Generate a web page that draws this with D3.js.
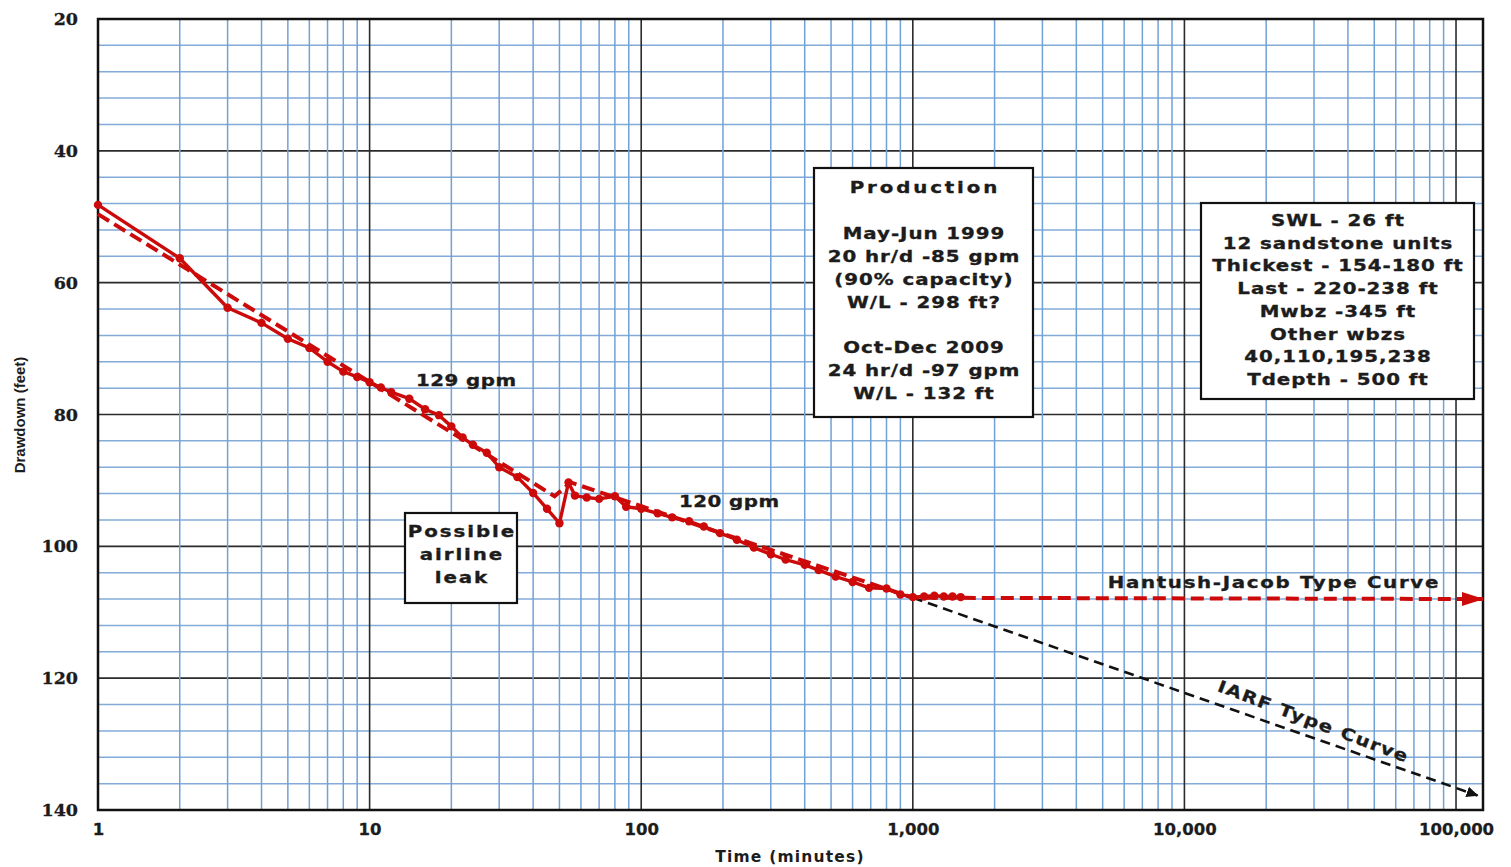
<!DOCTYPE html>
<html>
<head>
<meta charset="utf-8">
<script src="https://cdn.jsdelivr.net/npm/d3@7"></script>
<style>
  body { margin: 0; background: #ffffff; }
  svg { display: block; }
</style>
</head>
<body>
<svg id="chart" width="1511" height="867"></svg>
<script>
// Pumping test: drawdown (ft) vs elapsed time (min), semilog
const measuredTime = [1, 2, 3, 4, 5, 6, 7, 8, 9, 10, 11, 12, 14, 16, 18, 20, 22, 24, 27, 30, 35, 40, 45, 50, 54, 57, 63, 70, 80, 88, 100, 115, 130, 150, 170, 195, 225, 260, 300, 340, 400, 450, 520, 600, 690, 800, 900, 1000, 1100, 1200, 1300, 1400, 1500];
const measuredDrawdown = [48.2, 56.3, 63.8, 66.1, 68.5, 69.9, 72.0, 73.5, 74.3, 75.1, 75.9, 76.6, 77.6, 79.2, 80.1, 81.8, 83.5, 84.6, 85.8, 88.0, 89.5, 91.9, 94.3, 96.5, 90.3, 92.3, 92.6, 92.8, 92.4, 94.0, 94.3, 95.0, 95.6, 96.2, 97.0, 98.0, 99.0, 100.2, 101.2, 102.0, 102.8, 103.6, 104.6, 105.4, 106.3, 106.4, 107.3, 107.7, 107.6, 107.5, 107.6, 107.6, 107.7];

// Fitted straight-line segments (129 gpm, 120 gpm) then Hantush-Jacob plateau
const fitTime = [1, 48, 55, 1000, 125700];
const fitDrawdown = [49.6, 92.4, 90.3, 107.8, 108.0];

// Infinite-acting radial flow extension
const iarfTime = [1000, 120000];
const iarfDrawdown = [107.8, 137.8];

const xTickValues = [1, 10, 100, 1000, 10000, 100000];
const xTickLabels = ["1", "10", "100", "1,000", "10,000", "100,000"];
const yTickValues = [20, 40, 60, 80, 100, 120, 140];

const productionNotes = ["Production", "", "May-Jun 1999", "20 hr/d -85 gpm", "(90% capacity)", "W/L - 298 ft?", "", "Oct-Dec 2009", "24 hr/d -97 gpm", "W/L - 132 ft"];
const wellNotes = ["SWL - 26 ft", "12 sandstone units", "Thickest - 154-180 ft", "Last - 220-238 ft", "Mwbz -345 ft", "Other wbzs", "40,110,195,238", "Tdepth - 500 ft"];
const leakNote = ["Possible", "airline", "leak"];
const rateLabels = ["129 gpm", "120 gpm"];
const curveLabels = ["Hantush-Jacob Type Curve", "IARF Type Curve"];

const RED = "#cc0a0a";
const INK = "#1c1c1c";
const LABEL_FONT = "'DejaVu Sans', Verdana, sans-serif";
const WIDEN = 1.2;   // horizontal stretch applied to annotation lettering

const svg = d3.select("#chart");
const plot = { left: 98, right: 1483, top: 19, bottom: 810 };

const x = d3.scaleLog().domain([1, 125700]).range([plot.left, plot.right]);
const y = d3.scaleLinear().domain([20, 140]).range([plot.top, plot.bottom]);

// ---- grid ----
const grid = svg.append("g");
const hLines = d3.range(24, 140, 4);
grid.selectAll("line.h").data(hLines).join("line")
  .attr("x1", plot.left).attr("x2", plot.right)
  .attr("y1", d => y(d)).attr("y2", d => y(d))
  .attr("stroke", d => d % 20 === 0 ? "#2b2b2b" : "#82abd8")
  .attr("stroke-width", d => d % 20 === 0 ? 1.6 : 1.5);

const vMinor = [];
for (let k = 0; k < 5; k++) for (let m = 2; m <= 9; m++) vMinor.push(m * Math.pow(10, k));
grid.selectAll("line.vm").data(vMinor).join("line")
  .attr("x1", d => x(d)).attr("x2", d => x(d))
  .attr("y1", plot.top).attr("y2", plot.bottom)
  .attr("stroke", "#72a1d6").attr("stroke-width", 1.5);
grid.selectAll("line.vM").data(xTickValues.slice(1)).join("line")
  .attr("x1", d => x(d)).attr("x2", d => x(d))
  .attr("y1", plot.top).attr("y2", plot.bottom)
  .attr("stroke", "#2b2b2b").attr("stroke-width", 1.6);

svg.append("rect")
  .attr("x", plot.left).attr("y", plot.top)
  .attr("width", plot.right - plot.left).attr("height", plot.bottom - plot.top)
  .attr("fill", "none").attr("stroke", "#111").attr("stroke-width", 2.5);

// ---- axes ----
const xAxis = svg.append("g")
  .attr("transform", `translate(0,${plot.bottom})`)
  .call(d3.axisBottom(x).tickValues(xTickValues)
    .tickFormat((d, i) => xTickLabels[i]).tickSize(0).tickPadding(13));
xAxis.select(".domain").remove();
xAxis.selectAll("text")
  .attr("font-family", LABEL_FONT).attr("font-weight", "bold")
  .attr("font-size", 16.5).attr("fill", INK)
  .attr("stroke", INK).attr("stroke-width", 0.3);

const yAxis = svg.append("g")
  .attr("transform", `translate(${plot.left},0)`)
  .call(d3.axisLeft(y).tickValues(yTickValues).tickSize(0).tickPadding(20));
yAxis.select(".domain").remove();
yAxis.selectAll("text")
  .attr("font-family", "'DejaVu Serif', 'Liberation Serif', serif")
  .attr("font-weight", "bold").attr("font-size", 17.5).attr("fill", INK)
  .attr("stroke", INK).attr("stroke-width", 0.3);

svg.append("text")
  .attr("x", 790).attr("y", 862).attr("text-anchor", "middle")
  .attr("font-family", LABEL_FONT).attr("font-weight", "bold")
  .attr("font-size", 15.5).attr("letter-spacing", 1.2).attr("fill", INK)
  .text("Time (minutes)");

svg.append("text")
  .attr("transform", "translate(25,415) rotate(-90)")
  .attr("text-anchor", "middle")
  .attr("font-family", "'Liberation Sans', Arial, sans-serif").attr("font-weight", "bold")
  .attr("font-size", 15).attr("fill", INK)
  .text("Drawdown (feet)");

// ---- arrowheads ----
const defs = svg.append("defs");
defs.append("marker").attr("id", "redArrow")
  .attr("markerUnits", "userSpaceOnUse").attr("viewBox", "0 -8 22 16")
  .attr("markerWidth", 22).attr("markerHeight", 16)
  .attr("refX", 21).attr("refY", 0).attr("orient", "auto")
  .append("path").attr("d", "M0,-7L22,0L0,7Z").attr("fill", RED);
defs.append("marker").attr("id", "blackArrow")
  .attr("markerUnits", "userSpaceOnUse").attr("viewBox", "0 -6 12 12")
  .attr("markerWidth", 12).attr("markerHeight", 12)
  .attr("refX", 11).attr("refY", 0).attr("orient", "auto")
  .append("path").attr("d", "M0,-5.5L12,0L0,5.5Z").attr("fill", "#111");

const line = d3.line().x(d => x(d[0])).y(d => y(d[1]));

// IARF type curve
svg.append("path")
  .datum(d3.zip(iarfTime, iarfDrawdown))
  .attr("d", line).attr("fill", "none")
  .attr("stroke", "#111").attr("stroke-width", 2.6)
  .attr("stroke-dasharray", "10,6")
  .attr("marker-end", "url(#blackArrow)");

// Fitted curve
svg.append("path")
  .datum(d3.zip(fitTime, fitDrawdown))
  .attr("d", line).attr("fill", "none")
  .attr("stroke", RED).attr("stroke-width", 4)
  .attr("stroke-dasharray", "13,6")
  .attr("marker-end", "url(#redArrow)");

// Measured drawdown
const measured = d3.zip(measuredTime, measuredDrawdown);
svg.append("path")
  .datum(measured)
  .attr("d", line).attr("fill", "none")
  .attr("stroke", RED).attr("stroke-width", 3.4).attr("stroke-linejoin", "round");
svg.append("g").selectAll("circle").data(measured).join("circle")
  .attr("cx", d => x(d[0])).attr("cy", d => y(d[1])).attr("r", 4.2)
  .attr("fill", RED);

// ---- annotations ----
// one line of widened bold lettering centred on (cx, baseline)
function label(parent, txt, cx, baseline, spacing, size) {
  return parent.append("text")
    .attr("transform", `translate(${cx},${baseline}) scale(${WIDEN},1)`)
    .attr("x", spacing / 2).attr("text-anchor", "middle")
    .attr("font-family", LABEL_FONT).attr("font-weight", "bold")
    .attr("font-size", size || 16.5).attr("letter-spacing", spacing)
    .attr("fill", INK).attr("stroke", INK).attr("stroke-width", 0.35)
    .text(txt);
}

function noteBox(lines, box, firstBaseline, lineStep, spacing) {
  const g = svg.append("g");
  g.append("rect")
    .attr("x", box[0]).attr("y", box[1])
    .attr("width", box[2] - box[0]).attr("height", box[3] - box[1])
    .attr("fill", "#fff").attr("stroke", "#111").attr("stroke-width", 2.2);
  const cx = (box[0] + box[2]) / 2;
  lines.forEach((t, i) => { if (t) label(g, t, cx, firstBaseline + i * lineStep, spacing); });
  return g;
}

const prod = noteBox(productionNotes, [814, 168, 1033, 417], 193, 22.9, 0.8);
prod.select("text").attr("letter-spacing", 2.4).attr("x", 1.2);
noteBox(wellNotes, [1201, 203, 1474, 399], 226, 22.7, 0.8);
noteBox(leakNote, [405, 513, 517, 603], 537, 23, 1.6);

label(svg, rateLabels[0], 466, 386, 0.4);
label(svg, rateLabels[1], 729, 507, 0.4);
label(svg, curveLabels[0], 1273, 588, 1.4);

// IARF label follows the slope of its line
const p0 = [x(iarfTime[0]), y(iarfDrawdown[0])];
const p1 = [x(iarfTime[1]), y(iarfDrawdown[1])];
const ang = Math.atan2(p1[1] - p0[1], p1[0] - p0[0]) * 180 / Math.PI;
const lx = 1308, ly = p0[1] + (lx - p0[0]) * (p1[1] - p0[1]) / (p1[0] - p0[0]);
svg.append("text")
  .attr("transform", `translate(${lx},${ly}) rotate(${ang + 1.5}) translate(0,-10) scale(${WIDEN},1)`)
  .attr("text-anchor", "middle")
  .attr("font-family", LABEL_FONT).attr("font-weight", "bold")
  .attr("font-size", 16.5).attr("letter-spacing", 1.2)
  .attr("fill", INK).attr("stroke", INK).attr("stroke-width", 0.35)
  .text(curveLabels[1]);
</script>
</body>
</html>
